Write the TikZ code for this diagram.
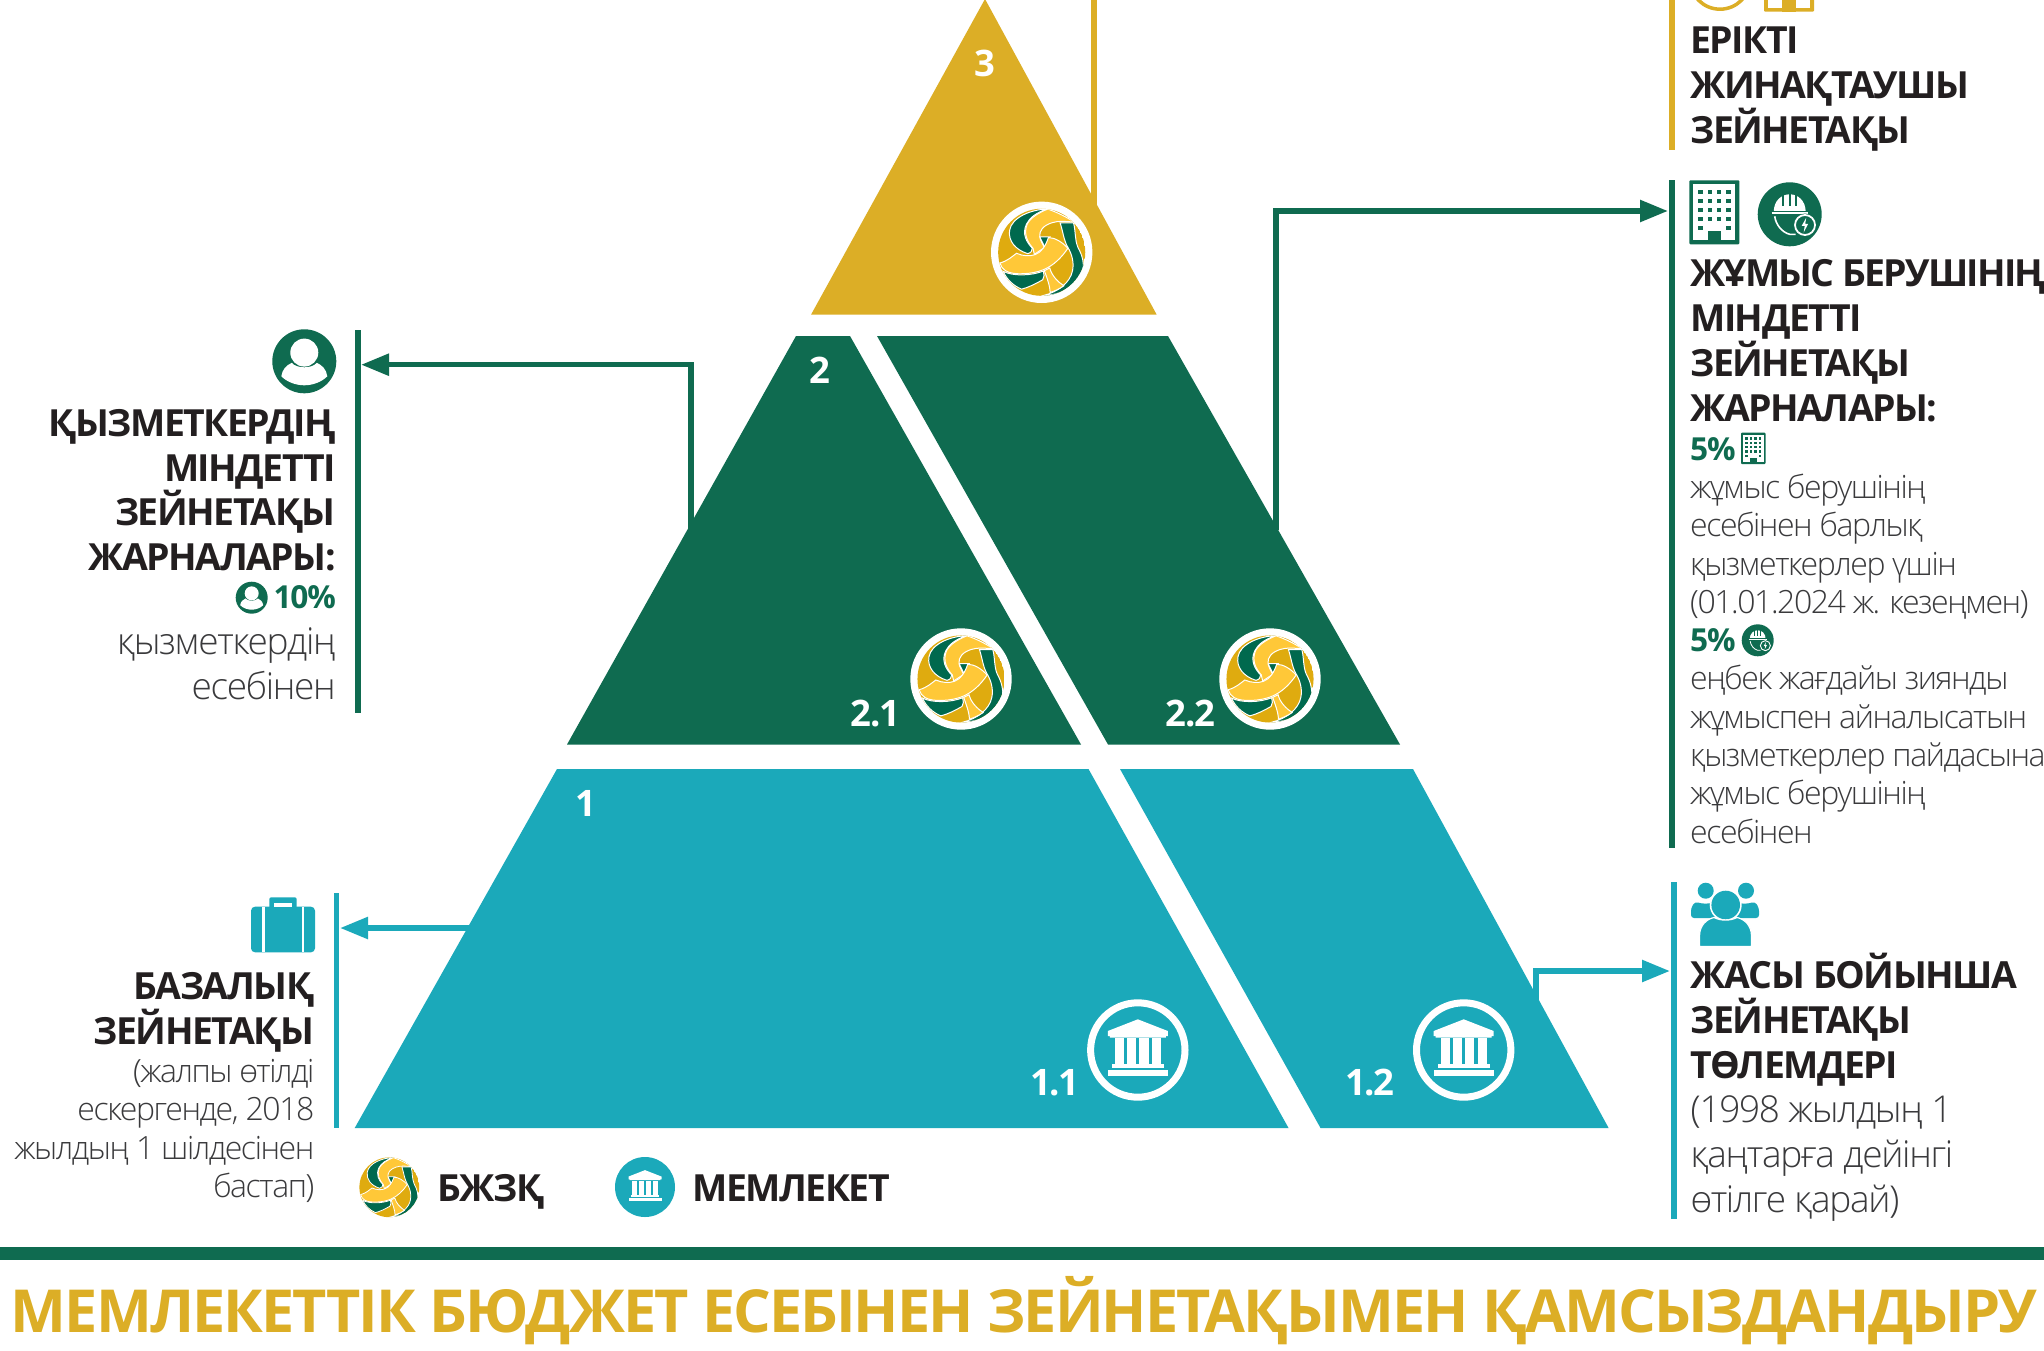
\documentclass[tikz,border=0pt]{standalone}
\usepackage{fontspec}
\setmainfont{Open Sans}[LetterSpace=-4]
\newfontfamily\lightf{Open Sans Light}[LetterSpace=-3.5]
\newfontfamily\lightg{Open Sans Light}[LetterSpace=-4.5]
\newfontfamily\footf{Open Sans}[LetterSpace=-3.3]
\usetikzlibrary{arrows.meta}
\definecolor{cgold}{HTML}{DCAE26}
\definecolor{cgreen}{HTML}{0F6B50}
\definecolor{cteal}{HTML}{1BA9BA}
\definecolor{cdark}{HTML}{231F20}
\definecolor{clight}{HTML}{3A3A3C}
\definecolor{bgold}{HTML}{DFAB0F}
\definecolor{byel}{HTML}{FFC838}
\definecolor{bgreen}{HTML}{00694E}
\tikzset{
  x=1pt,y=-1pt,
  bar/.style={line width=5.5pt},
  conn/.style={line width=5.5pt,-{Triangle[length=28pt,width=21pt]}},
  head/.style={anchor=base,inner sep=0pt,text=cdark,font=\bfseries\fontsize{37.4}{44.8}\selectfont},
  body/.style={inner sep=0pt,text=clight,font=\lightg\fontsize{32}{38.3}\selectfont},
  bodybig/.style={inner sep=0pt,text=clight,font=\lightf\fontsize{37}{45}\selectfont},
  pct/.style={inner sep=0pt,text=cgreen,font=\bfseries\fontsize{31.7}{38}\selectfont},
  num/.style={anchor=base,inner sep=0pt,text=white,font=\bfseries\fontsize{36.5}{40}\selectfont},
  piece/.style={draw=white,line width=#1},
}
% ball: centre x, centre y, scale (130 units = ball radius), separator width
\newcommand\ballicon[4]{%
\begin{scope}[shift={(#1,#2)},scale=#3]
\begin{scope}
\clip (0,0) circle (130);
\fill[bgold] (0,0) circle (130);
\begin{scope}[piece=#4]
\filldraw[fill=bgreen] (15,-129) .. controls (-30,-128) and (-90,-105) .. (-96,-65) .. controls (-100,-35) and (-80,-8) .. (-42,4) .. controls (-32,2) and (-28,-5) .. (-28,-12) .. controls (-45,-30) and (-60,-55) .. (-45,-85) .. controls (-35,-105) and (-15,-118) .. (15,-129) -- cycle;
\filldraw[fill=bgreen] (-6,-46) -- (25,-46) -- (10,-14) -- cycle;
\filldraw[fill=byel] (18,-129) .. controls (45,-120) and (75,-105) .. (97,-90) .. controls (75,-92) and (50,-95) .. (30,-88) .. controls (5,-80) and (-8,-65) .. (-6,-46) .. controls (-4,-35) and (3,-25) .. (8,-14) -- (-22,6) -- (-26,-12) .. controls (-42,-30) and (-56,-55) .. (-43,-85) .. controls (-33,-103) and (-10,-118) .. (18,-129) -- cycle;
\filldraw[fill=bgreen] (55,-88) -- (95,-88) .. controls (102,-60) and (98,-40) .. (108,-15) .. controls (122,10) and (128,35) .. (122,60) .. controls (110,100) and (60,128) .. (5,129) .. controls (50,118) and (85,90) .. (92,55) .. controls (97,30) and (90,5) .. (78,-15) .. controls (66,-35) and (64,-60) .. (55,-88) -- cycle;
\filldraw[fill=byel] (-125,32) .. controls (-100,25) and (-88,12) .. (-75,3) .. controls (-55,12) and (-35,12) .. (-20,7) .. controls (0,0) and (12,-20) .. (20,-44) .. controls (40,-44) and (62,-30) .. (78,-12) .. controls (60,15) and (35,40) .. (5,52) .. controls (-25,65) and (-85,70) .. (-108,55) .. controls (-116,50) and (-122,42) .. (-125,32) -- cycle;
\filldraw[fill=bgreen] (-115,57) .. controls (-85,72) and (-30,70) .. (5,56) .. controls (8,65) and (8,75) .. (3,82) .. controls (-20,95) and (-40,105) .. (-60,110) .. controls (-85,100) and (-105,80) .. (-115,57) -- cycle;
\filldraw[fill=byel] (8,55) -- (24,47) .. controls (30,70) and (48,88) .. (66,100) .. controls (52,110) and (40,115) .. (25,120) .. controls (25,100) and (15,75) .. (8,55) -- cycle;
\end{scope}
\end{scope}
\end{scope}}
% bank: centre x, centre y, scale, colour
\newcommand\bankicon[4]{%
\begin{scope}[shift={(#1,#2)},scale=#3]
\fill[#4] (0,-30.7)--(30,-19)--(30,-14)--(28,-14)--(28,-12.5)--(-28,-12.5)--(-28,-14)--(-30,-14)--(-30,-19)--cycle;
\fill[#4] (-22.8,-11.7) rectangle (-13.8,14.3);
\fill[#4] (-10.7,-11.7) rectangle (-1.8,14.3);
\fill[#4] (1.3,-11.7) rectangle (10.7,14.3);
\fill[#4] (14.3,-11.7) rectangle (22.8,14.3);
\fill[#4] (-26,14.3) rectangle (26,17.7);
\fill[#4] (-30,20) rectangle (30,26);
\end{scope}}
% building: left, top, scale, colour
\newcommand\buildicon[4]{%
\begin{scope}[shift={(#1,#2)},scale=#3]
\fill[#4,rounded corners=1pt] (0,0) rectangle (50,64);
\fill[white] (4,4) rectangle (46,60);
\foreach \cx in {11.3,20.7,29.7,39}{\foreach \cy in {11.7,20.7,29.7,38.7}{\fill[#4] (\cx-2.4,\cy-2.4) rectangle (\cx+2.4,\cy+2.4);}}
\foreach \cx in {11.3,39}{\fill[#4] (\cx-2.4,45.3) rectangle (\cx+2.4,50.1);}
\fill[#4] (18.3,51) rectangle (31.7,64);
\end{scope}}
% person: centre x, centre y, scale
\newcommand\personicon[3]{%
\begin{scope}[shift={(#1,#2)},scale=#3]
\fill[cgreen] (0,0) circle (32);
\fill[white] (0,-8.7) circle (14);
\fill[white] (-23,15) .. controls (-22,8) and (-18,4) .. (-12.5,1.5) .. controls (-8,7.5) and (8,7.5) .. (12.5,1.5) .. controls (18,4) and (22,8) .. (23,15) .. controls (17,21) and (8,24) .. (0,24) .. controls (-8,24) and (-17,21) .. (-23,15) -- cycle;
\end{scope}}
% helmet: centre x, centre y, scale
\newcommand\helmeticon[3]{%
\begin{scope}[shift={(#1,#2)},scale=#3]
\fill[cgreen] (0,0) circle (32);
\fill[white] (-16,-2) .. controls (-16,-14) and (-8,-20) .. (0,-20) .. controls (8,-20) and (16,-14) .. (16,-2) -- cycle;
\foreach \sx in {-6.5,0,6.5}{\fill[cgreen] (\sx-1,-20) rectangle (\sx+1,-8.5);}
\draw[cgreen,line width=#3*1pt] (-18,-3.2) -- (18,-3.2);
\draw[white,line width=#3*2pt] (-18,-1) -- (18,-1);
\draw[white,line width=#3*1.6pt] (-15,2) .. controls (-14,10) and (-8,18) .. (0,20) -- (6,20);
\fill[cgreen] (15.3,10.7) circle (11.5);
\draw[white,line width=#3*1.8pt] (15.3,10.7) circle (10);
\fill[white] (16.5,3.5) -- (12,11.5) -- (15,11.5) -- (14,18) -- (18.5,9.5) -- (15.5,9.5) -- cycle;
\end{scope}}
\begin{document}
\begin{tikzpicture}
\useasboundingbox (0,0) rectangle (2044,1351);
\begin{scope}
\clip (0,0) rectangle (2044,1351);
\fill[white] (0,0) rectangle (2044,1351);

% connector ends
\coordinate (goldS) at (1094,215);
\coordinate (goldE) at (1094,-5);
\coordinate (g1S) at (691,530);
\coordinate (g1E) at (361,364.7);
\coordinate (g2S) at (1276,530);
\coordinate (g2E) at (1668,211);
\coordinate (t1S) at (470,928);
\coordinate (t1E) at (340,928);
\coordinate (t2S) at (1536,1002);
\coordinate (t2E) at (1670,971);

\draw[bar,cgold] (goldS) -- (goldE);
\draw[conn,cgreen] (g1S) |- (g1E);
\draw[conn,cgreen] (g2S) |- (g2E);
\draw[conn,cteal] (t1S) -- (t1E);
\draw[conn,cteal] (t2S) |- (t2E);

% vertical bars
\fill[cgold] (1669,-2) rectangle (1674.7,150);
\fill[cgreen] (1669,180) rectangle (1674.7,848);
\fill[cteal] (1671,882) rectangle (1676.5,1219);
\fill[cgreen] (355,329.5) rectangle (360.7,713);
\fill[cteal] (334,893) rectangle (339.3,1128);

% pyramid
\fill[cgold] (985,-1)--(1156.7,314.7)--(811,314.7)--cycle;
\fill[cgreen] (796,336)--(850,336)--(1081,744.5)--(567,744.5)--cycle;
\fill[cgreen] (877,336)--(1168,336)--(1400,744.5)--(1108,744.5)--cycle;
\fill[cteal] (557,769)--(1088.5,769)--(1288.5,1128)--(354.7,1128)--cycle;
\fill[cteal] (1120,769)--(1413,769)--(1608.6,1128)--(1320.5,1128)--cycle;

% badges
\fill[white] (1041.7,252.3) circle (50.7);
\ballicon{1041.7}{252.3}{0.335}{1pt}
\fill[white] (961,679) circle (50.7);
\ballicon{961}{679}{0.335}{1pt}
\fill[white] (1270,679) circle (50.7);
\ballicon{1270}{679}{0.335}{1pt}
\draw[white,line width=7pt] (1137.8,1050) circle (47.2);
\bankicon{1137.8}{1050}{1}{white}
\draw[white,line width=7pt] (1463.7,1050) circle (47.2);
\bankicon{1463.7}{1050}{1}{white}

% pyramid numbers
\node[num] (n3) at (985,77) {3};
\node[num] (n2) at (820,383.6) {2};
\node[num] (n1) at (586,816) {1};
\node[num] (n21) at (875.5,726) {2.1};
\node[num] (n22) at (1190.5,726) {2.2};
\node[num] (n11) at (1055,1095) {1.1};
\node[num] (n12) at (1370,1095) {1.2};

% top right icons (cropped by page top)
\draw[cgold,line width=3.5pt] (1720,-21) circle (30.2);
\buildicon{1764}{-52.3}{1}{cgold}

% voluntary
\node[head,anchor=base west,align=left] (vol) at (1690,143.5) {ЕРІКТІ\\ЖИНАҚТАУШЫ\\ЗЕЙНЕТАҚЫ};

% employer
\buildicon{1689.3}{180.3}{1}{cgreen}
\helmeticon{1789.7}{214.3}{1}
\node[head,anchor=base west,align=left] (emp) at (1690,421) {{\addfontfeature{LetterSpace=-4.8}ЖҰМЫС БЕРУШІНІҢ}\\МІНДЕТТІ\\ЗЕЙНЕТАҚЫ\\ЖАРНАЛАРЫ:};
\node[pct,anchor=base west] (p5a) at (1690,460) {5\%};
\buildicon{1741}{432.7}{0.49}{cgreen}
\node[body,anchor=base west,align=left] (empa) at (1690,613.3) {жұмыс берушінің\\есебінен барлық\\қызметкерлер үшін\\(01.01.2024 ж. кезеңмен)};
\node[pct,anchor=base west] (p5b) at (1690,651.7) {5\%};
\helmeticon{1757.7}{640.3}{0.5}
\node[body,anchor=base west,align=left] (empb) at (1690,843) {еңбек жағдайы зиянды\\жұмыспен айналысатын\\қызметкерлер пайдасына\\жұмыс берушінің\\есебінен};

% age pension
\fill[cteal] (1705.7,890.7) circle (8);
\fill[cteal] (1746,890.7) circle (8);
\fill[cteal,rounded corners=3pt] (1691,918) -- (1691,908) -- (1695,901.7) .. controls (1703,904) and (1708,904) .. (1716,901.7) -- (1716,918) -- cycle;
\fill[cteal,rounded corners=3pt] (1759,918) -- (1759,908) -- (1755,901.7) .. controls (1747,904) and (1742,904) .. (1735,901.7) -- (1735,918) -- cycle;
\fill[white] (1725.7,905) circle (16);
\fill[cteal] (1725.7,905) circle (14.3);
\filldraw[fill=cteal,draw=white,line width=1.2pt] (1699.5,946.5) -- (1699.5,936) .. controls (1699.5,925) and (1707,919) .. (1714,917.5) .. controls (1721,921) and (1730,921) .. (1737,917.5) .. controls (1744,919) and (1751.5,925) .. (1751.5,936) -- (1751.5,946.5) -- cycle;
\node[head,anchor=base west,align=left] (age) at (1690.5,1078) {ЖАСЫ БОЙЫНША\\ЗЕЙНЕТАҚЫ\\ТӨЛЕМДЕРІ};
\node[bodybig,anchor=base west,align=left] (aget) at (1690.5,1212) {(1998 жылдың 1\\қаңтарға дейінгі\\өтілге қарай)};

% employee
\personicon{304.3}{361.3}{1}
\node[head,anchor=base east,align=right] (wrk) at (336,570.7) {ҚЫЗМЕТКЕРДІҢ\\МІНДЕТТІ\\ЗЕЙНЕТАҚЫ\\ЖАРНАЛАРЫ:};
\personicon{251.7}{597.7}{0.5}
\node[pct,anchor=base east] (p10) at (336,608.3) {10\%};
\node[bodybig,anchor=base east,align=right] (wrkt) at (336,699) {қызметкердің\\есебінен};

% basic pension
\fill[cteal,rounded corners=4pt] (251,906.7) rectangle (315,952.3);
\fill[cteal,rounded corners=2pt] (269.3,897.3) rectangle (296.7,912);
\fill[white] (274,902.7) rectangle (292.3,906.7);
\fill[white] (262.3,906.7) rectangle (265,952.3);
\fill[white] (301.7,906.7) rectangle (304,952.3);
\node[head,anchor=base east,align=right] (bas) at (314.5,1044) {БАЗАЛЫҚ\\ЗЕЙНЕТАҚЫ};
\node[body,anchor=base east,align=right] (bast) at (314.5,1197.5) {(жалпы өтілді\\ескергенде, 2018\\жылдың 1 шілдесінен\\бастап)};

% legend
\ballicon{389.3}{1187.3}{0.23}{0.8pt}
\node[head,anchor=base west] (lga) at (437,1201.7) {БЖЗҚ};
\fill[cteal] (645,1187) circle (30);
\bankicon{645}{1187}{0.55}{white}
\node[head,anchor=base west] (lgb) at (692,1201.7) {МЕМЛЕКЕТ};

% footer
\fill[cgreen] (0,1246.7) rectangle (2044,1260);
\node[anchor=base,inner sep=0pt,text=cgold,font=\footf\bfseries\fontsize{59.3}{65}\selectfont] (foot) at (1024,1332.3) {МЕМЛЕКЕТТІК БЮДЖЕТ ЕСЕБІНЕН ЗЕЙНЕТАҚЫМЕН ҚАМСЫЗДАНДЫРУ};
\end{scope}
\end{tikzpicture}
\end{document}
